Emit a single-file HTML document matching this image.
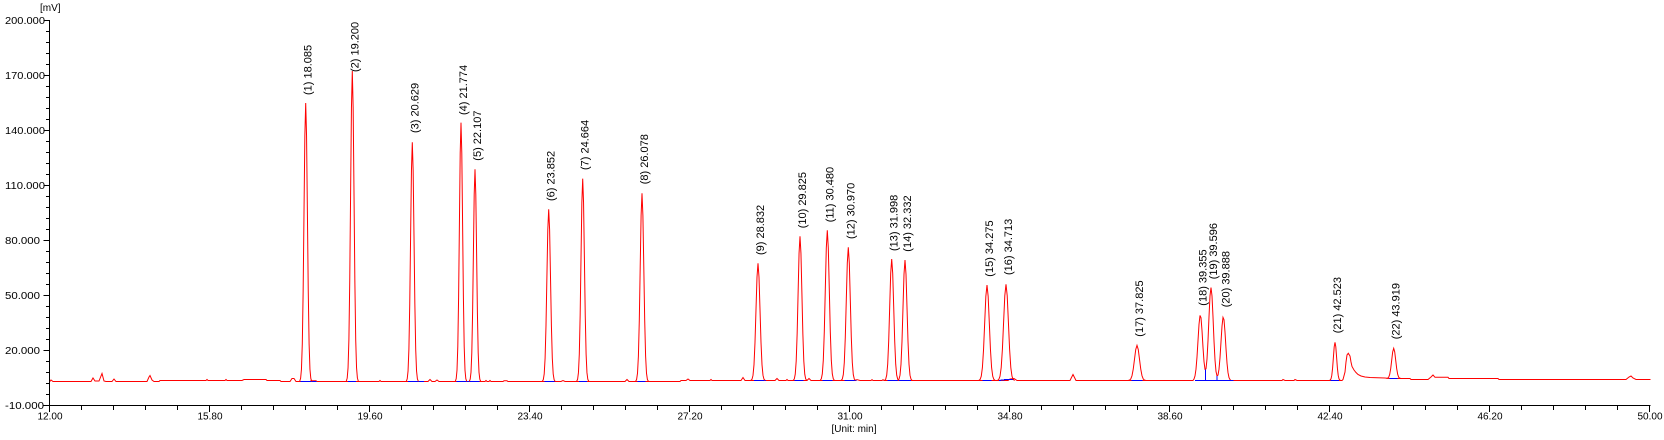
<!DOCTYPE html>
<html>
<head>
<meta charset="utf-8">
<style>
  html,body{margin:0;padding:0;background:#fff;}
  svg{display:block;}
  text{font-family:"Liberation Sans",Arial,sans-serif;fill:#000;}
</style>
</head>
<body>
<svg width="1664" height="440" viewBox="0 0 1664 440" xmlns="http://www.w3.org/2000/svg">
  <rect x="0" y="0" width="1664" height="440" fill="#fff"/>

  <!-- axes -->
  <g stroke="#000" stroke-width="1" fill="none" shape-rendering="crispEdges">
    <path d="M49.5,20 V405.5 H1650.5"/>
    <!-- y major ticks -->
    <path d="M43.5,20.5H49.5M43.5,75.5H49.5M43.5,130.5H49.5M43.5,185.5H49.5M43.5,240.5H49.5M43.5,295.5H49.5M43.5,350.5H49.5M43.5,405.5H49.5"/>
    <!-- y minor ticks -->
    <path d="M46,31.5H49.5M46,42.5H49.5M46,53.5H49.5M46,64.5H49.5
             M46,86.5H49.5M46,97.5H49.5M46,108.5H49.5M46,119.5H49.5
             M46,141.5H49.5M46,152.5H49.5M46,163.5H49.5M46,174.5H49.5
             M46,196.5H49.5M46,207.5H49.5M46,218.5H49.5M46,229.5H49.5
             M46,251.5H49.5M46,262.5H49.5M46,273.5H49.5M46,284.5H49.5
             M46,306.5H49.5M46,317.5H49.5M46,328.5H49.5M46,339.5H49.5
             M46,361.5H49.5M46,372.5H49.5M46,383.5H49.5M46,394.5H49.5"/>
    <!-- x major ticks -->
    <path d="M49.5,405.5V412M209.5,405.5V412M369.5,405.5V412M529.5,405.5V412M689.5,405.5V412M849.5,405.5V412M1009.5,405.5V412M1169.5,405.5V412M1329.5,405.5V412M1489.5,405.5V412M1649.5,405.5V412"/>
    <!-- x minor ticks -->
    <path d="M81.5,405.5V410M113.5,405.5V410M145.5,405.5V410M177.5,405.5V410
             M241.5,405.5V410M273.5,405.5V410M305.5,405.5V410M337.5,405.5V410
             M401.5,405.5V410M433.5,405.5V410M465.5,405.5V410M497.5,405.5V410
             M561.5,405.5V410M593.5,405.5V410M625.5,405.5V410M657.5,405.5V410
             M721.5,405.5V410M753.5,405.5V410M785.5,405.5V410M817.5,405.5V410
             M881.5,405.5V410M913.5,405.5V410M945.5,405.5V410M977.5,405.5V410
             M1041.5,405.5V410M1073.5,405.5V410M1105.5,405.5V410M1137.5,405.5V410
             M1201.5,405.5V410M1233.5,405.5V410M1265.5,405.5V410M1297.5,405.5V410
             M1361.5,405.5V410M1393.5,405.5V410M1425.5,405.5V410M1457.5,405.5V410
             M1521.5,405.5V410M1553.5,405.5V410M1585.5,405.5V410M1617.5,405.5V410"/>
  </g>

  <!-- axis labels -->
  <text x="40" y="11" font-size="10">[mV]</text>
  <g font-size="10">
    <text x="5" y="24" textLength="40" lengthAdjust="spacingAndGlyphs">200.000</text>
    <text x="5" y="79" textLength="40" lengthAdjust="spacingAndGlyphs">170.000</text>
    <text x="5" y="134" textLength="40" lengthAdjust="spacingAndGlyphs">140.000</text>
    <text x="5" y="189" textLength="40" lengthAdjust="spacingAndGlyphs">110.000</text>
    <text x="5" y="244" textLength="35" lengthAdjust="spacingAndGlyphs">80.000</text>
    <text x="5" y="299" textLength="35" lengthAdjust="spacingAndGlyphs">50.000</text>
    <text x="5" y="354" textLength="35" lengthAdjust="spacingAndGlyphs">20.000</text>
    <text x="5" y="409" textLength="39" lengthAdjust="spacingAndGlyphs">-10.000</text>
  </g>
  <g font-size="10" text-anchor="middle">
    <text x="50" y="419.5">12.00</text>
    <text x="210" y="419.5">15.80</text>
    <text x="370" y="419.5">19.60</text>
    <text x="530" y="419.5">23.40</text>
    <text x="690" y="419.5">27.20</text>
    <text x="850" y="419.5">31.00</text>
    <text x="1010" y="419.5">34.80</text>
    <text x="1170" y="419.5">38.60</text>
    <text x="1330" y="419.5">42.40</text>
    <text x="1490" y="419.5">46.20</text>
    <text x="1650" y="419.5">50.00</text>
    <text x="854" y="432">[Unit: min]</text>
  </g>

  <!-- baseline trace -->
  <path fill="none" stroke="#ff0000" stroke-width="1" d="M50,381.5 L51,380 L53,381.5 L91,381.5 L93,378 L95,381 L99,381 L101,376 L102,373.5 L104,381 L106,381.5 L112,381.5 L114,379 L116,381.5 L147,381.5 L149,377 L150,375.5 L152,380 L154,381.5 L159,381.5 L160,380.5 L206,380.5 L207,379.5 L208,380.5 L225,380.5 L226,379.5 L227,380.5 L242,380.5 L244,379.5 L266,379.5 L267,380.5 L280,380.5 L281,381.5 L290,381.5 L292,378.5 L294,378.5 L296,381.5 L310,381.5 L311,380.8 L316,380.8 L317,381.5 L379,381.5 L380,380.5 L381,381.5 L428,381.5 L430,379.5 L432,381.5 L435,381.5 L437,380 L439,381.5 L485,381.5 L486,380.5 L487,381.5 L489,381.5 L490,380.5 L491,381.5 L503,381.5 L504,380.8 L507,380.8 L508,381.5 L561,381.5 L563,380.5 L565,381.5 L625,381.5 L627,379.5 L629,381.5 L680,381.5 L681,380.5 L686,380.5 L688,379 L690,380.5 L710,380.5 L711,379.5 L712,380.5 L741,380.5 L743,377.5 L745,380.5 L775,380.5 L777,378.5 L779,380.5 L786,380.5 L787,379.5 L788,380.5 L807,380.5 L809,378.5 L811,380.5 L855,380.5 L857,379.7 L860,380.5 L871,380.5 L872,379.7 L873,380.5 L882,380.5 L883,379.7 L884,380.5 L1008,380.5 L1010,379 L1014,378.5 L1017,380.5 L1070,380.5 L1073,374.5 L1076,380.5 L1193,380.5 L1194,379 L1195,375.9 L1196,369.1 L1197,357 L1198,340.6 L1199,324.5 L1200,315.4 L1201,317.8 L1202,330.5 L1203,347.3 L1204,361.6 L1205,369.3 L1206,368.8 L1207,359.1 L1208,340.6 L1209,316.8 L1210,295.9 L1211,287.5 L1212,295.9 L1213,316.8 L1214,340.8 L1215,359.9 L1216,371.4 L1217,375.9 L1218,375.1 L1219,369.2 L1220,357.8 L1221,341.8 L1222,326.2 L1223,317.3 L1224,319.7 L1225,332 L1226,348.5 L1227,363 L1228,372.6 L1229,377.6 L1230,379.6 L1231,380.5 L1282,380.5 L1283,379.5 L1285,380.5 L1294,380.5 L1295,379.5 L1297,380.5 L1342,380.5 L1343,379.5 L1345,372 L1346,362 L1347,355 L1348.3,353.3 L1350,356 L1351,362 L1352,366.5 L1354,370 L1356,372.5 L1358,374.5 L1361,376 L1365,377 L1370,377.5 L1385,378 L1389,378.5 L1410,378.5 L1411,379.5 L1428,379.5 L1431,377 L1433,375 L1435,377.3 L1448,377.3 L1449,378.5 L1498,378.5 L1499,379.5 L1626,379.5 L1629,377 L1631,376 L1633,378 L1636,379.5 L1650.5,379.5"/>

  <!-- integration baselines (blue) -->
  <g stroke="#0000ff" stroke-width="1" fill="none" shape-rendering="crispEdges">
    <path d="M300.7,381.5H316.7M348,381.5H356M408,381.5H424M456.7,381.5H479.3M544.3,381.5H555M579,381.5H587M637.3,381.5H645.7"/>
    <path d="M754,380.5H766M794.3,380.5H803.3M822.7,380.5H832.7M844.3,380.5H856.7M887.3,380.5H911"/>
    <path d="M982.7,380.5H991.7M999,380.5L1006,379.5H1014M1131.7,380.5H1142.7M1195,380.5H1233.3M1330.7,380.5H1339M1389.3,378.5H1397.7"/>
    <path d="M1205.5,369.3V380.5M1217,375.9V380.5"/>
  </g>

  <!-- peaks -->
  <g fill="none" stroke="#ff0000" stroke-width="1">
    <path vector-effect="non-scaling-stroke" transform="translate(305.7,381.5) scale(5.1,-278.5)" d="M-1.2,0L-1,.011L-.833,.044L-.667,.135L-.5,.325L-.333,.607L-.167,.882L0,1L.167,.882L.333,.607L.5,.325L.667,.135L.833,.044L1,.011L1.2,0"/>
    <path vector-effect="non-scaling-stroke" transform="translate(352.3,381.5) scale(5.1,-310.5)" d="M-1.2,0L-1,.011L-.833,.044L-.667,.135L-.5,.325L-.333,.607L-.167,.882L0,1L.167,.882L.333,.607L.5,.325L.667,.135L.833,.044L1,.011L1.2,0"/>
    <path vector-effect="non-scaling-stroke" transform="translate(412.3,381.5) scale(5.1,-239.2)" d="M-1.2,0L-1,.011L-.833,.044L-.667,.135L-.5,.325L-.333,.607L-.167,.882L0,1L.167,.882L.333,.607L.5,.325L.667,.135L.833,.044L1,.011L1.2,0"/>
    <path vector-effect="non-scaling-stroke" transform="translate(461,381.5) scale(4.8,-258.8)" d="M-1.2,0L-1,.011L-.833,.044L-.667,.135L-.5,.325L-.333,.607L-.167,.882L0,1L.167,.882L.333,.607L.5,.325L.667,.135L.833,.044L1,.011L1.2,0"/>
    <path vector-effect="non-scaling-stroke" transform="translate(475,381.5) scale(4.8,-212.2)" d="M-1.2,0L-1,.011L-.833,.044L-.667,.135L-.5,.325L-.333,.607L-.167,.882L0,1L.167,.882L.333,.607L.5,.325L.667,.135L.833,.044L1,.011L1.2,0"/>
    <path vector-effect="non-scaling-stroke" transform="translate(548.7,381.5) scale(5.4,-172.2)" d="M-1.2,0L-1,.011L-.833,.044L-.667,.135L-.5,.325L-.333,.607L-.167,.882L0,1L.167,.882L.333,.607L.5,.325L.667,.135L.833,.044L1,.011L1.2,0"/>
    <path vector-effect="non-scaling-stroke" transform="translate(582.7,381.5) scale(5.1,-202.8)" d="M-1.2,0L-1,.011L-.833,.044L-.667,.135L-.5,.325L-.333,.607L-.167,.882L0,1L.167,.882L.333,.607L.5,.325L.667,.135L.833,.044L1,.011L1.2,0"/>
    <path vector-effect="non-scaling-stroke" transform="translate(642,381.5) scale(5.4,-188.2)" d="M-1.2,0L-1,.011L-.833,.044L-.667,.135L-.5,.325L-.333,.607L-.167,.882L0,1L.167,.882L.333,.607L.5,.325L.667,.135L.833,.044L1,.011L1.2,0"/>
    <path vector-effect="non-scaling-stroke" transform="translate(758,380.5) scale(6,-117.2)" d="M-1.2,0L-1,.011L-.833,.044L-.667,.135L-.5,.325L-.333,.607L-.167,.882L0,1L.167,.882L.333,.607L.5,.325L.667,.135L.833,.044L1,.011L1.2,0"/>
    <path vector-effect="non-scaling-stroke" transform="translate(800,380.5) scale(5.7,-144.2)" d="M-1.2,0L-1,.011L-.833,.044L-.667,.135L-.5,.325L-.333,.607L-.167,.882L0,1L.167,.882L.333,.607L.5,.325L.667,.135L.833,.044L1,.011L1.2,0"/>
    <path vector-effect="non-scaling-stroke" transform="translate(827.3,380.5) scale(6,-150.2)" d="M-1.2,0L-1,.011L-.833,.044L-.667,.135L-.5,.325L-.333,.607L-.167,.882L0,1L.167,.882L.333,.607L.5,.325L.667,.135L.833,.044L1,.011L1.2,0"/>
    <path vector-effect="non-scaling-stroke" transform="translate(848.3,380.5) scale(6,-133.2)" d="M-1.2,0L-1,.011L-.833,.044L-.667,.135L-.5,.325L-.333,.607L-.167,.882L0,1L.167,.882L.333,.607L.5,.325L.667,.135L.833,.044L1,.011L1.2,0"/>
    <path vector-effect="non-scaling-stroke" transform="translate(891.7,380.5) scale(6,-121.5)" d="M-1.2,0L-1,.011L-.833,.044L-.667,.135L-.5,.325L-.333,.607L-.167,.882L0,1L.167,.882L.333,.607L.5,.325L.667,.135L.833,.044L1,.011L1.2,0"/>
    <path vector-effect="non-scaling-stroke" transform="translate(905,380.5) scale(6,-120.5)" d="M-1.2,0L-1,.011L-.833,.044L-.667,.135L-.5,.325L-.333,.607L-.167,.882L0,1L.167,.882L.333,.607L.5,.325L.667,.135L.833,.044L1,.011L1.2,0"/>
    <path vector-effect="non-scaling-stroke" transform="translate(987,380.5) scale(6.9,-95.5)" d="M-1.2,0L-1,.011L-.833,.044L-.667,.135L-.5,.325L-.333,.607L-.167,.882L0,1L.167,.882L.333,.607L.5,.325L.667,.135L.833,.044L1,.011L1.2,0"/>
    <path vector-effect="non-scaling-stroke" transform="translate(1006,380.5) scale(7.2,-96.2)" d="M-1.2,0L-1,.011L-.833,.044L-.667,.135L-.5,.325L-.333,.607L-.167,.882L0,1L.167,.882L.333,.607L.5,.325L.667,.135L.833,.044L1,.011L1.2,0"/>
    <path vector-effect="non-scaling-stroke" transform="translate(1137,380.5) scale(7.5,-35.2)" d="M-1.2,0L-1,.011L-.833,.044L-.667,.135L-.5,.325L-.333,.607L-.167,.882L0,1L.167,.882L.333,.607L.5,.325L.667,.135L.833,.044L1,.011L1.2,0"/>
    <path vector-effect="non-scaling-stroke" transform="translate(1335,380.5) scale(4.8,-38.2)" d="M-1.2,0L-1,.011L-.833,.044L-.667,.135L-.5,.325L-.333,.607L-.167,.882L0,1L.167,.882L.333,.607L.5,.325L.667,.135L.833,.044L1,.011L1.2,0"/>
    <path vector-effect="non-scaling-stroke" transform="translate(1393.7,378.5) scale(6,-30.2)" d="M-1.2,0L-1,.011L-.833,.044L-.667,.135L-.5,.325L-.333,.607L-.167,.882L0,1L.167,.882L.333,.607L.5,.325L.667,.135L.833,.044L1,.011L1.2,0"/>
  </g>

  <!-- peak labels -->
  <g font-size="11">
    <text transform="translate(311.7,95) rotate(-90)">(1) 18.085</text>
    <text transform="translate(358.3,72) rotate(-90)">(2) 19.200</text>
    <text transform="translate(418.3,133) rotate(-90)">(3) 20.629</text>
    <text transform="translate(467,115) rotate(-90)">(4) 21.774</text>
    <text transform="translate(481,160.7) rotate(-90)">(5) 22.107</text>
    <text transform="translate(554.7,201) rotate(-90)">(6) 23.852</text>
    <text transform="translate(588.7,170) rotate(-90)">(7) 24.664</text>
    <text transform="translate(648,184.3) rotate(-90)">(8) 26.078</text>
    <text transform="translate(764,255) rotate(-90)">(9) 28.832</text>
    <text transform="translate(806,228.3) rotate(-90)">(10) 29.825</text>
    <text transform="translate(833.3,222.3) rotate(-90)">(11) 30.480</text>
    <text transform="translate(854.3,239) rotate(-90)">(12) 30.970</text>
    <text transform="translate(897.7,251) rotate(-90)">(13) 31.998</text>
    <text transform="translate(911,251.7) rotate(-90)">(14) 32.332</text>
    <text transform="translate(993,276.7) rotate(-90)">(15) 34.275</text>
    <text transform="translate(1012,275) rotate(-90)">(16) 34.713</text>
    <text transform="translate(1143,336.7) rotate(-90)">(17) 37.825</text>
    <text transform="translate(1206.3,305.7) rotate(-90)">(18) 39.355</text>
    <text transform="translate(1217,279.3) rotate(-90)">(19) 39.596</text>
    <text transform="translate(1229.3,307.3) rotate(-90)">(20) 39.888</text>
    <text transform="translate(1341,333.3) rotate(-90)">(21) 42.523</text>
    <text transform="translate(1399.7,339.3) rotate(-90)">(22) 43.919</text>
  </g>
</svg>
</body>
</html>
